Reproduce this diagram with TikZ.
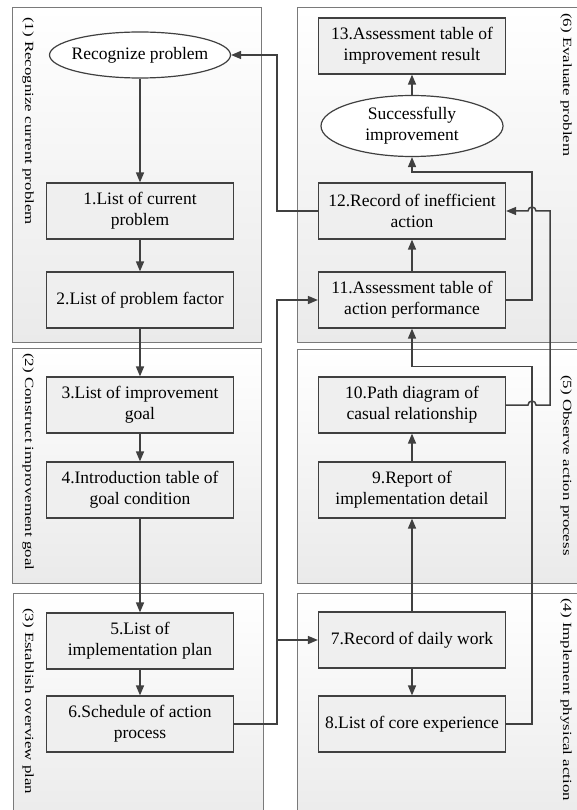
\documentclass[tikz,border=0pt]{standalone}
\usepackage{fontspec}
\setmainfont{Liberation Serif}
\usepackage{graphicx}
\usetikzlibrary{positioning,arrows.meta,shapes.geometric,calc}

\definecolor{linegray}{HTML}{404040}
\definecolor{framegray}{HTML}{7A7A7A}
\definecolor{panelgray}{HTML}{EAEAEA}
\definecolor{boxgray}{HTML}{EFEFEF}
\newcommand{\lbltext}[1]{\scalebox{1.35}[1]{#1}}

\begin{document}
\begin{tikzpicture}[x=1pt,y=1pt,>={Triangle[length=10pt,width=8pt]},node distance=85pt,on grid,
    box/.style={draw=linegray,line width=1.2pt,fill=boxgray,minimum width=187pt,minimum height=56pt,
      align=center,inner sep=2pt,font=\fontsize{17.5}{21}\selectfont},
    oval/.style={ellipse,draw=linegray,line width=1.2pt,fill=white,align=center,inner sep=0pt,
      font=\fontsize{17.5}{21}\selectfont},
    panel/.style={draw=framegray,line width=1pt,top color=white,bottom color=panelgray},
    lbl/.style={rotate=-90,anchor=base west,inner sep=0pt,font=\fontsize{12.5}{15}\selectfont},
    wire/.style={color=linegray,line width=1.5pt}]
    \useasboundingbox (0,0) rectangle (576,-810);

    % the six stages
    \path[panel] (12,-8) rectangle (261,-342);
    \path[panel] (12,-348) rectangle (261,-583);
    \path[panel] (13,-593) rectangle (263,-830);
    \path[panel] (297,-8) rectangle (610,-342);
    \path[panel] (297,-349) rectangle (610,-583);
    \path[panel] (297,-593) rectangle (610,-830);

    \node[lbl] (t1) at (25,-17) {\lbltext{(1) Recognize current problem}};
    \node[lbl] (t2) at (25,-353) {\lbltext{(2) Construct improvement goal}};
    \node[lbl] (t3) at (25,-608) {\lbltext{(3) Establish overview plan}};
    \node[lbl] (t4) at (563,-598) {\lbltext{(4) Implement physical action}};
    \node[lbl] (t5) at (563,-375) {\lbltext{(5) Observe action process}};
    \node[lbl] (t6) at (563,-13) {\lbltext{(6) Evaluate problem}};

    % left column
    \node[oval,inner xsep=-12pt,minimum width=181pt,minimum height=46pt] (rec) at (140,-55) {Recognize problem};
    \node[box] (n1) [below=156pt of rec] {1.List of current\\problem};
    \node[box] (n2) [below=89pt of n1] {2.List of problem factor};
    \node[box] (n3) [below=105pt of n2] {3.List of improvement\\goal};
    \node[box] (n4) [below=of n3] {4.Introduction table of\\goal condition};
    \node[box] (n5) [below=151pt of n4] {5.List of\\implementation plan};
    \node[box] (n6) [below=83pt of n5] {6.Schedule of action\\process};

    % right column
    \node[box] (n13) at (412,-46) {13.Assessment table of\\improvement result};
    \node[oval,minimum width=182pt,minimum height=61pt] (succ) [below=80pt of n13] {Successfully\\improvement};
    \node[box] (n12) [below=of succ] {12.Record of inefficient\\action};
    \node[box] (n11) [below=89pt of n12] {11.Assessment table of\\action performance};
    \node[box] (n10) [below=105pt of n11] {10.Path diagram of\\casual relationship};
    \node[box] (n9) [below=of n10] {9.Report of\\implementation detail};
    \node[box] (n7) [below=150pt of n9] {7.Record of daily work};
    \node[box] (n8) [below=84pt of n7] {8.List of core experience};

    \coordinate (busL) at (277,0);
    \coordinate (busA) at (532,0);
    \coordinate (busB) at (550,0);

    \path[->,wire]
    (rec) edge (n1)
    (n1) edge (n2)
    (n2) edge (n3)
    (n3) edge (n4)
    (n4) edge (n5)
    (n5) edge (n6)
    (n7) edge (n8)
    (n7) edge (n9)
    (n9) edge (n10)
    (n11) edge (n12)
    (succ) edge (n13);

    \draw[->,wire] (n12.west) -| (busL |- rec.east) -- (rec.east);
    \draw[->,wire] (n6.east) -| (busL |- n11.west) -- (n11.west);
    \draw[->,wire] (busL |- n7.west) -- (n7.west);
    \draw[->,wire] (n11.east) -| ($(succ.south -| busA)+(0,-15)$) -- ($(succ.south)+(0,-15)$) -- (succ.south);
    \draw[->,wire] (n8.east) -| ($(n11.south -| busA)+(0,-38)$) -- ($(n11.south)+(0,-38)$) -- (n11.south);
    \draw[->,wire] (n10.east) -- ($(n10.east -| busA)+(-4,0)$) arc[start angle=180,end angle=0,radius=4pt]
      -- (n10.east -| busB) -- (n12.east -| busB) -- ($(n12.east -| busA)+(4,0)$)
      arc[start angle=0,end angle=180,radius=4pt] -- (n12.east);
\end{tikzpicture}
\end{document}
